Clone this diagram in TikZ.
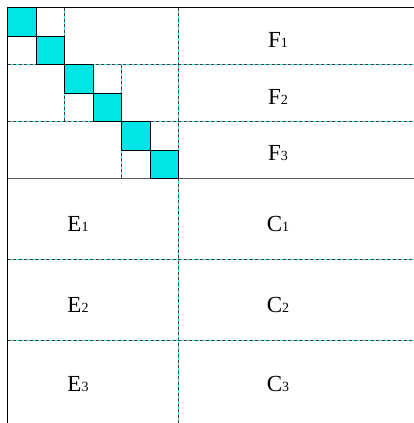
\documentclass[tikz,border=0pt]{standalone}
\usepackage{fontspec}
\setmainfont{Liberation Serif}
\definecolor{blk}{RGB}{0,229,229}
\definecolor{dcy}{RGB}{60,230,230}
\tikzset{
  x=1pt,y=-1pt,
  dline/.style={dcy, line width=1.1pt},
  dover/.style={black!75, line width=1.1pt, dash pattern=on 3pt off 2.5pt},
  solidg/.style={black!60, line width=1pt},
  sq/.style={fill=blk, draw=black, line width=1pt},
  lbl/.style={inner sep=0pt, font=\fontsize{23}{23}\selectfont}
}
\newcommand{\dl}[2]{\draw[dline] #1 -- #2; \draw[dover] #1 -- #2;}
\newcommand{\lab}[1]{{\fontsize{14}{14}\selectfont #1}}
\begin{document}
\begin{tikzpicture}
\useasboundingbox (0,0) rectangle (414,423);
% cyan diagonal squares
\foreach \i in {0,...,5}{
  \path[sq] ({7.5+28.5*\i},{7.5+28.5*\i}) rectangle ({36+28.5*\i},{36+28.5*\i});
}
% inner grey cross lines inside blocks
\draw[solidg] (36,7.5) -- (36,64.5);
\draw[solidg] (7.5,36) -- (64.5,36);
\draw[solidg] (93,64.5) -- (93,121.5);
\draw[solidg] (64.5,93) -- (121.5,93);
\draw[solidg] (150,121.5) -- (150,178.5);
\draw[solidg] (121.5,150) -- (178.5,150);
% dashed lines
\dl{(64.5,7.5)}{(64.5,121.5)}
\dl{(121.5,64.5)}{(121.5,178.5)}
\dl{(178.5,7.5)}{(178.5,423)}
\dl{(7.5,64.5)}{(414,64.5)}
\dl{(7.5,121.5)}{(414,121.5)}
\dl{(7.5,259.5)}{(414,259.5)}
\dl{(7.5,340.5)}{(414,340.5)}
% solid lines
\draw[black!65, line width=1.2pt] (7.5,178.5) -- (414,178.5);
\draw[black, line width=1.2pt] (7.5,7.5) -- (414,7.5);
\draw[black, line width=1.2pt] (7.5,7.5) -- (7.5,423);
% redraw square borders on top
\foreach \i in {0,...,5}{
  \draw[black, line width=1pt] ({7.5+28.5*\i},{7.5+28.5*\i}) rectangle ({36+28.5*\i},{36+28.5*\i});
}
% labels
\node[lbl] (f1) at (278,40) {F\lab{1}};
\node[lbl] (f2) at (278,97) {F\lab{2}};
\node[lbl] (f3) at (278,153) {F\lab{3}};
\node[lbl] (e1) at (78,224) {E\lab{1}};
\node[lbl] (e2) at (78,305) {E\lab{2}};
\node[lbl] (e3) at (78,384) {E\lab{3}};
\node[lbl] (c1) at (278,224) {C\lab{1}};
\node[lbl] (c2) at (278,305) {C\lab{2}};
\node[lbl] (c3) at (278,384) {C\lab{3}};
\end{tikzpicture}
\end{document}
